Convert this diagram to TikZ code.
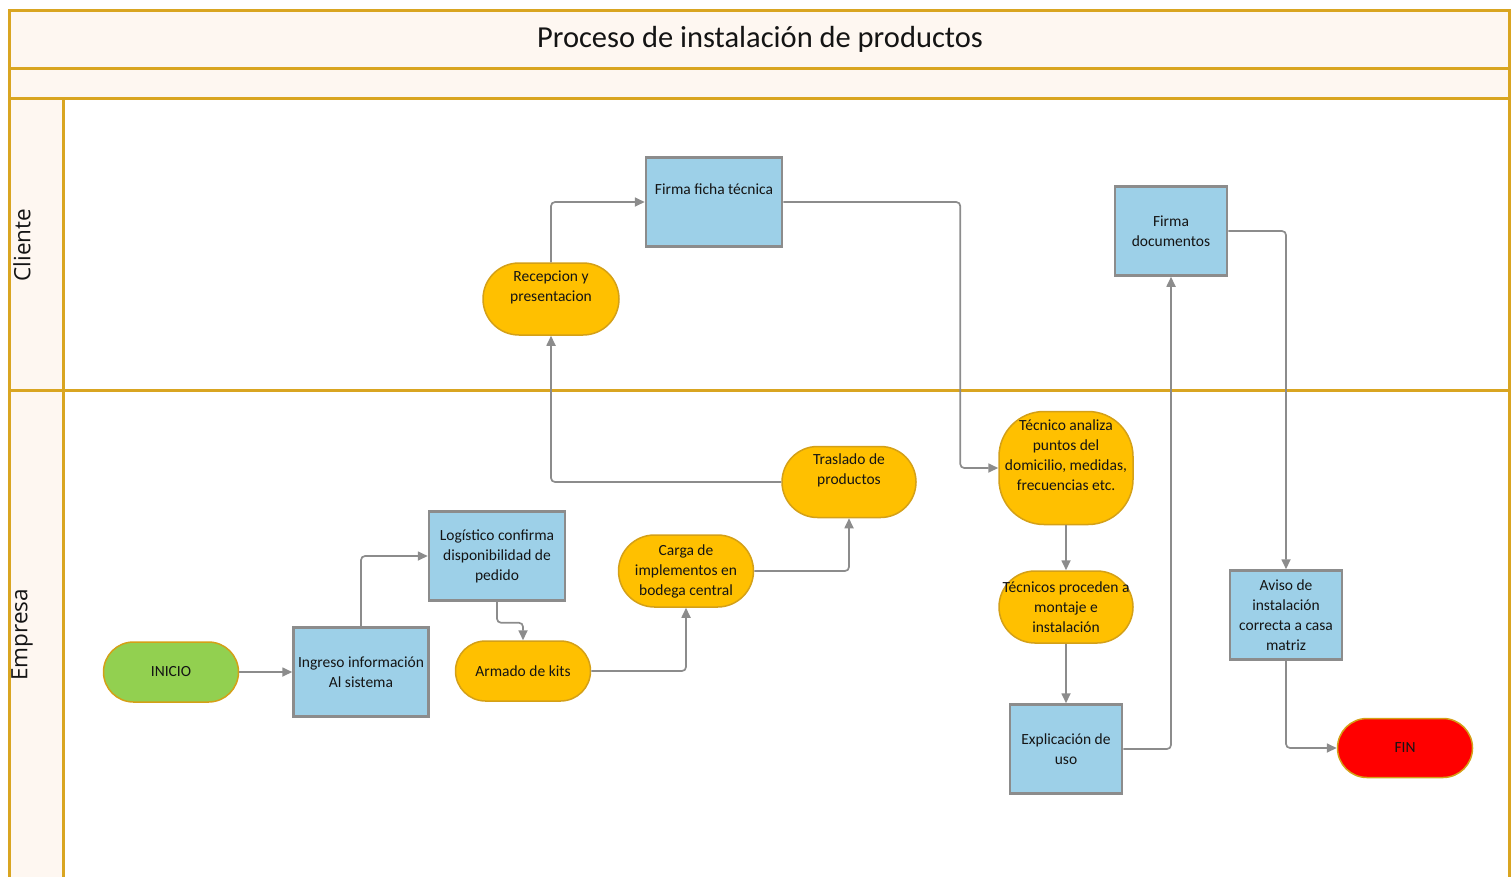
\documentclass[tikz,border=0pt]{standalone}
\usepackage{fontspec}
\setmainfont{Carlito}
\newfontfamily\lanefont{Open Sans}
\usetikzlibrary{arrows.meta}

\definecolor{bandfill}{HTML}{FEF7F1}
\definecolor{lanegold}{HTML}{D9A521}
\definecolor{termgold}{HTML}{D4A017}
\definecolor{boxblue}{HTML}{9DD0E8}
\definecolor{boxgray}{HTML}{8C8C8C}
\definecolor{taskorange}{HTML}{FFC000}
\definecolor{startgreen}{HTML}{92D050}
\definecolor{endred}{HTML}{FF0000}
\definecolor{inkdark}{HTML}{141414}

\begin{document}
\begin{tikzpicture}[x=1pt,y=-1pt,
  lane/.style={draw=lanegold, line width=3pt},
  txt/.style={font=\fontsize{15.5}{20}\selectfont, text=inkdark, align=center, inner sep=1pt},
  procbox/.style={txt, draw=boxgray, line width=2.5pt, fill=boxblue,
    minimum width=#1, minimum height=89},
  procbox/.default=135,
  pill/.style n args={3}{txt, draw=termgold, line width=1.5pt, fill=#3,
    minimum width=#1, minimum height=#2, rounded corners=#2/2},
  flow/.style={draw=boxgray, line width=1.7pt, rounded corners=4pt,
    -{Triangle[length=10pt,width=9pt]}},
  lanelabel/.style={rotate=90, font=\lanefont\fontsize{22.5}{26}\selectfont, text=inkdark}
]
\useasboundingbox (0,0) rectangle (1511,876);

% swimlane frame
\fill[bandfill] (9,10) rectangle (1509,98);
\fill[bandfill] (9,98) rectangle (63,880);
\draw[lane] (9,880) -- (9,10) -- (1509,10) -- (1509,880);
\draw[lane] (9,68) -- (1509,68);
\draw[lane] (9,98) -- (1509,98);
\draw[lane] (63,98) -- (63,880);
\draw[lane] (9,390) -- (1509,390);

% titles
\node[font=\fontsize{30.5}{36}\selectfont, text=inkdark] (title) at (760,39)
  {Proceso de instalación de productos};
\node[lanelabel] (cliente) at (22,245) {Cliente};
\node[lanelabel] (empresa) at (22,635) {Empresa};

% steps
\node[pill={135}{60}{startgreen}] (inicio) at (171,672) {INICIO};
\node[procbox] (ingreso) at (361,672) {Ingreso información\\Al sistema};
\node[procbox=136] (logistico) at (497,556) {Logístico confirma\\disponibilidad de\\pedido};
\node[pill={135}{60}{taskorange}] (armado) at (523,671) {Armado de kits};
\node[pill={135}{72}{taskorange}] (carga) at (686,571) {Carga de\\implementos en\\bodega central};
\node[pill={134}{71}{taskorange}] (traslado) at (849,482) {Traslado de\\productos\\\strut};
\node[pill={136}{72}{taskorange}] (recepcion) at (551,299) {Recepcion y\\presentacion\\\strut};
\node[procbox=136] (firmaficha) at (714,202) {Firma ficha técnica\\\strut};
\node[txt, draw=termgold, line width=1.5pt, fill=taskorange, minimum width=134,
  minimum height=113, rounded corners=45] (analiza) at (1066,468)
  {Técnico analiza\\puntos del\\domicilio, medidas,\\frecuencias etc.\\\strut};
\node[pill={134}{72}{taskorange}] (procede) at (1066,607) {Técnicos proceden a\\montaje e\\instalación};
\node[procbox=112] (explica) at (1066,749) {Explicación de\\uso};
\node[procbox=112] (firmadoc) at (1171,231) {Firma\\documentos};
\node[procbox=112] (aviso) at (1286,615) {Aviso de\\instalación\\correcta a casa\\matriz};
\node[pill={135}{59}{endred}] (fin) at (1405,748) {FIN};

% connectors
\draw[flow] (inicio) -- (ingreso);
\draw[flow] (ingreso.north) |- (logistico.west);
\draw[flow] (logistico.south) -- ++(0,21) -| (armado.north);
\draw[flow] (armado.east) -| (carga.south);
\draw[flow] (carga.east) -| (traslado.south);
\draw[flow] (traslado.west) -| (recepcion.south);
\draw[flow] (recepcion.north) |- (firmaficha.west);
\draw[flow] (firmaficha.east) -- ++(177,0) |- (analiza.west);
\draw[flow] (analiza) -- (procede);
\draw[flow] (procede) -- (explica);
\draw[flow] (explica.east) -| (firmadoc.south);
\draw[flow] (firmadoc.east) -| (aviso.north);
\draw[flow] (aviso.south) |- (fin.west);
\end{tikzpicture}
\end{document}
